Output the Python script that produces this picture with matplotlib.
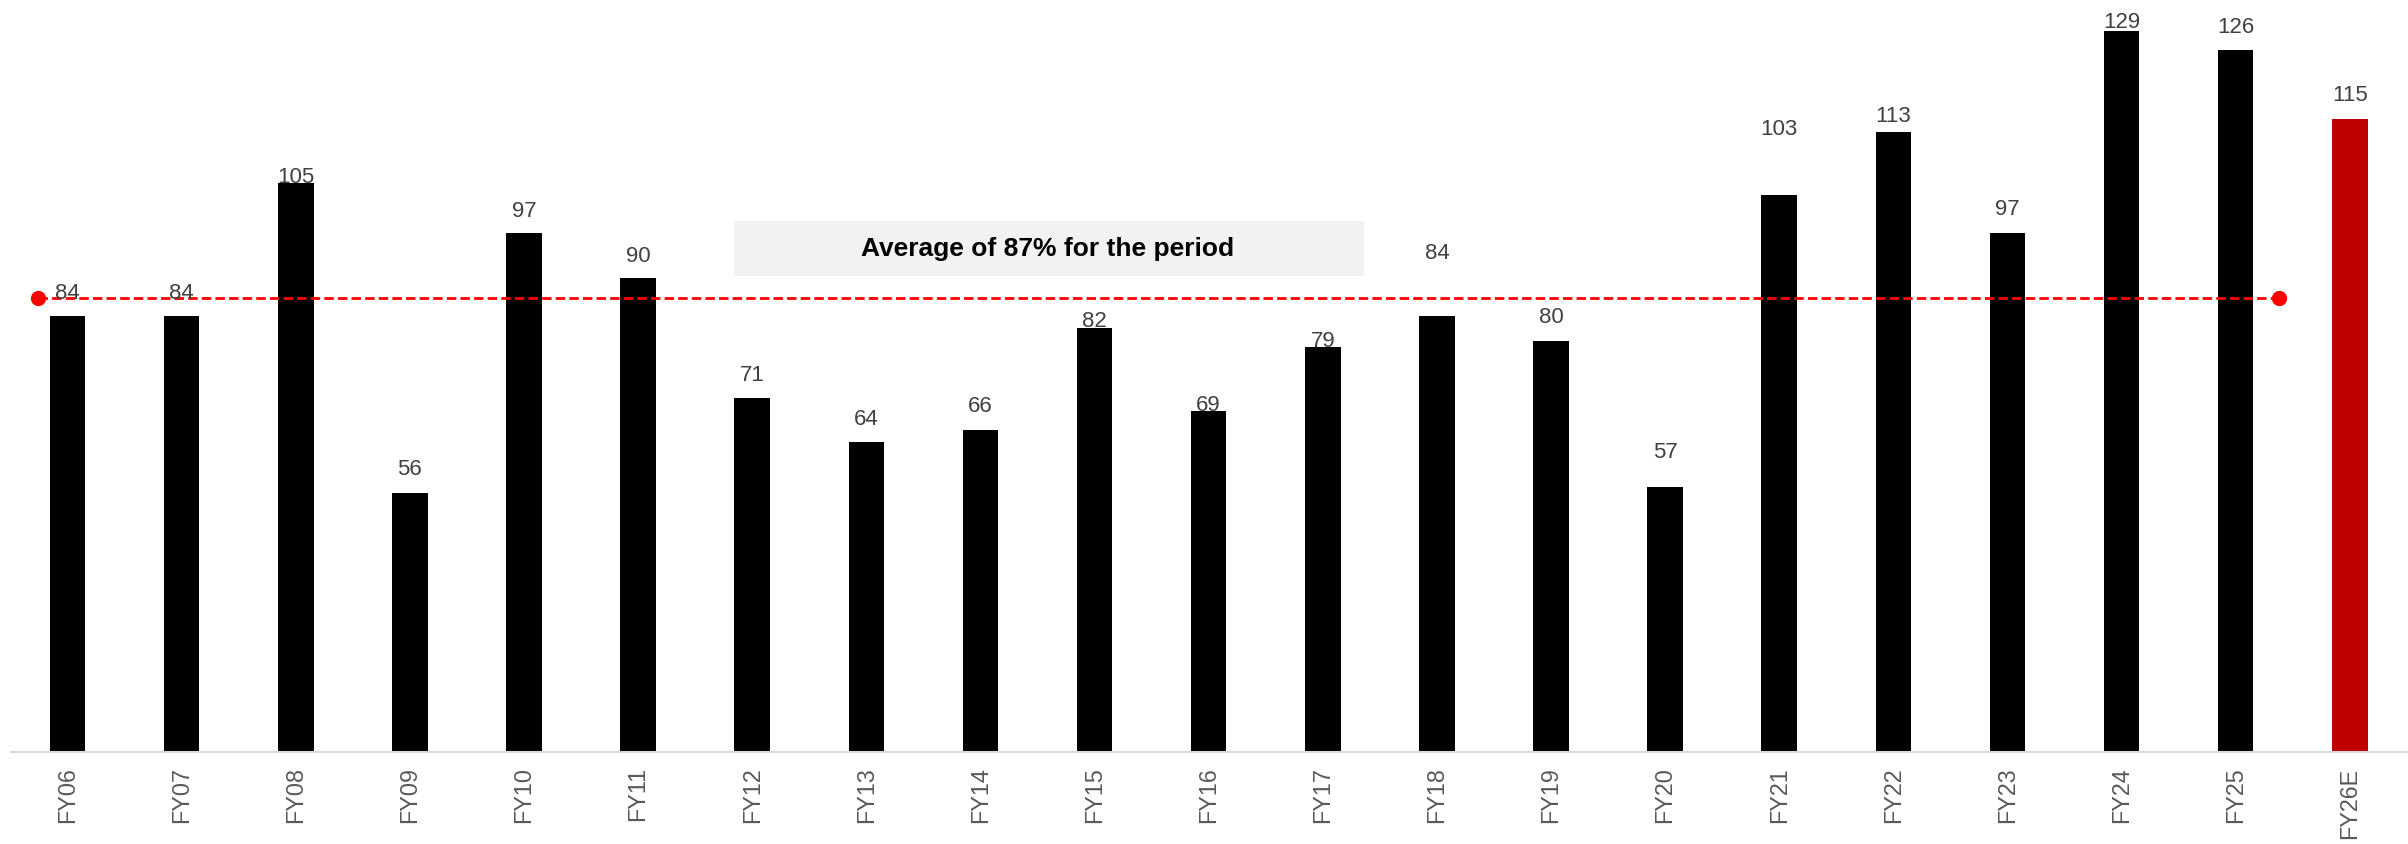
import numpy as np
import matplotlib
matplotlib.use("Agg")
import matplotlib.pyplot as plt
from matplotlib.patches import Rectangle

# Fiscal years and ratio values (%)
years = ["FY06", "FY07", "FY08", "FY09", "FY10", "FY11", "FY12", "FY13", "FY14",
         "FY15", "FY16", "FY17", "FY18", "FY19", "FY20", "FY21", "FY22", "FY23",
         "FY24", "FY25", "FY26E"]
values = [84, 84, 105, 56, 97, 90, 71, 64, 66, 82, 69, 79, 84, 80, 57, 103, 113, 97,
          129, 126, 115]
n_actual = 20  # FY06-FY25 are actuals, FY26E is an estimate

# Gap (pixels) between each bar top and its value label
label_gap_px = [17, 17, 0, 18, 16, 16, 17, 17, 18, 1, 0, 0, 57, 18, 29, 60, 10, 18,
                3, 17, 18]

plt.rcParams["font.family"] = ["Liberation Sans", "DejaVu Sans"]

DPI = 100
W, H = 2408, 844
fig = plt.figure(figsize=(W / DPI, H / DPI), dpi=DPI)
ax_left = 10.7 / W
ax = fig.add_axes([ax_left, 0.109, 1 - ax_left, 0.891])

x = np.arange(len(years))
colors = ["#000000"] * n_actual + ["#C00000"] * (len(years) - n_actual)
ybottom = 15.1
ax.bar(x, np.array(values) - ybottom, bottom=ybottom, width=0.311, color=colors,
       zorder=2)

ax.set_xlim(-0.498, 20.51)
ax.set_ylim(ybottom, 133.85)

# Value labels
for xi, v, gap in zip(x, values, label_gap_px):
    ax.annotate(f"{v}", xy=(xi, v), xytext=(0, gap * 72 / DPI),
                textcoords="offset points", ha="center", va="baseline",
                fontsize=16, color="#404040", zorder=4)

# Average line over the actual years
avg = float(np.mean(values[:n_actual]))
line_x = [x[0] - 0.26, x[n_actual - 1] + 0.38]
ax.plot(line_x, [avg, avg], color="#FF0000", lw=2.0, linestyle=(0, (3.4, 1.5)),
        zorder=3)
ax.plot(line_x, [avg, avg], "o", color="#FF0000", markersize=10, zorder=3,
        linestyle="none")

# Callout box
box = Rectangle((734 / W, 1 - 276 / H), (1364 - 734) / W, 55 / H,
                transform=fig.transFigure, facecolor="#F2F2F2", edgecolor="none",
                zorder=1)
fig.patches.append(box)
fig.text(1048 / W, 1 - 249 / H, f"Average of {avg:.0f}% for the period",
         ha="center", va="center", fontsize=19, fontweight="bold", color="#000000")

# Axes styling
for side in ["top", "right", "left"]:
    ax.spines[side].set_visible(False)
ax.spines["bottom"].set_color("#D9D9D9")
ax.spines["bottom"].set_linewidth(1.5)
ax.set_yticks([])
ax.set_xticks(x)
ax.set_xticklabels(years, rotation=90, fontsize=16.8, color="#595959")
ax.tick_params(axis="x", length=0, pad=11)

fig.savefig("out.png", dpi=DPI)
